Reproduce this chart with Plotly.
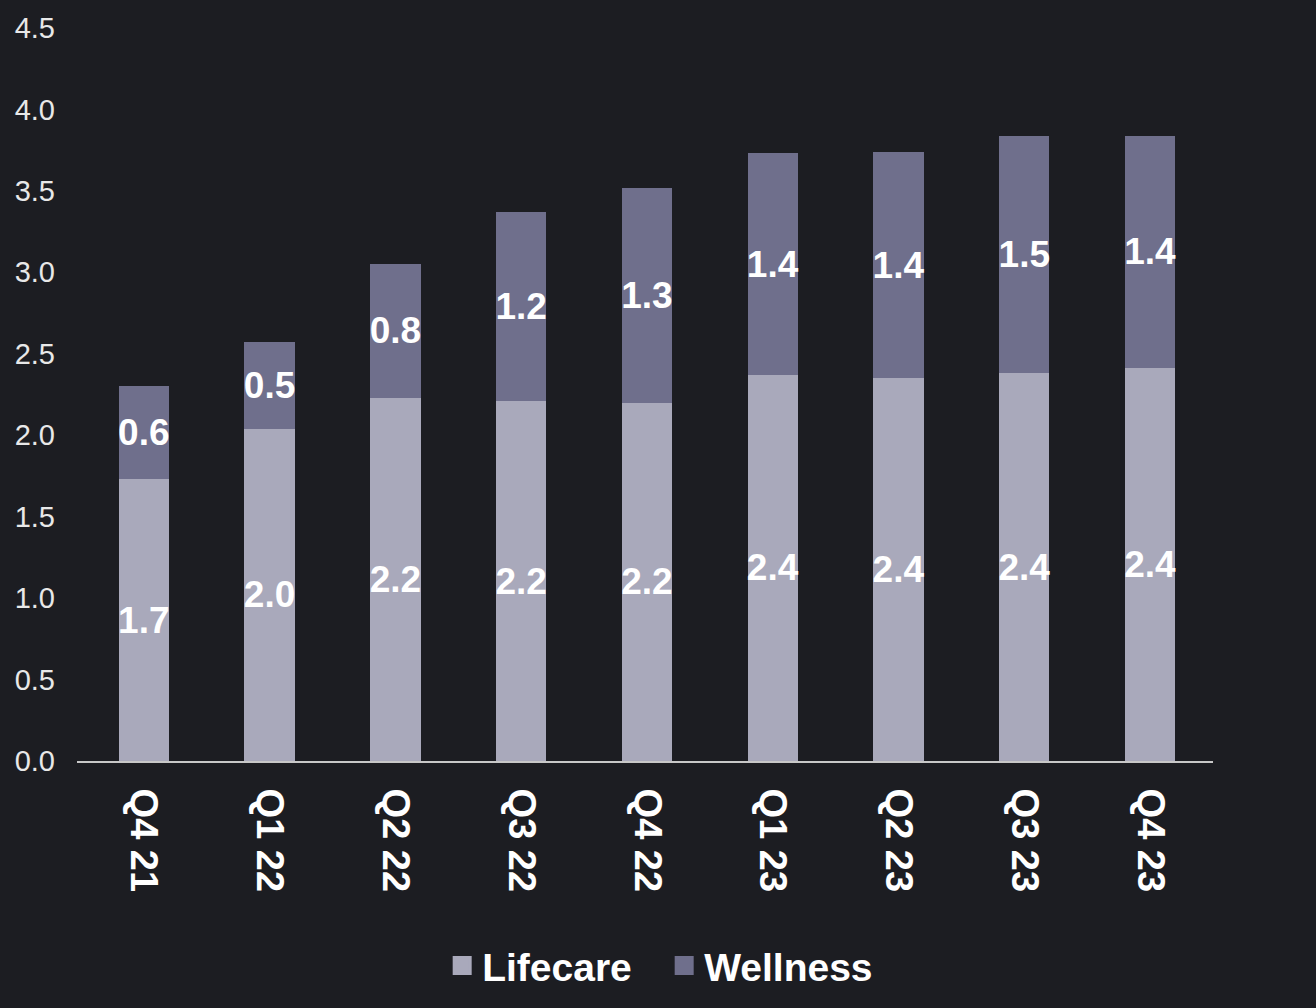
import plotly.graph_objects as go

quarters = ["Q4 21", "Q1 22", "Q2 22", "Q3 22", "Q4 22", "Q1 23", "Q2 23", "Q3 23", "Q4 23"]
lifecare = [1.73, 2.04, 2.23, 2.21, 2.20, 2.37, 2.35, 2.38, 2.41]
wellness = [0.57, 0.53, 0.82, 1.16, 1.32, 1.36, 1.39, 1.46, 1.43]

series = [("Lifecare", lifecare, "#a9a9bb"), ("Wellness", wellness, "#6f6f8c")]

bg = "#1c1d22"
font = "Liberation Sans, Arial, sans-serif"

fig = go.Figure()
for name, vals, color in series:
    fig.add_trace(go.Bar(
        x=quarters, y=vals, name=name, showlegend=False,
        marker=dict(color=color, line=dict(width=0)),
        text=[f"{v:.1f}" for v in vals], textposition="inside",
        textangle=0, insidetextanchor="middle", constraintext="none",
        textfont=dict(color="white", size=37, family=font, weight="bold"),
    ))

# legend entries with bigger square swatches
for name, vals, color in series:
    fig.add_trace(go.Scatter(
        x=[quarters[0]], y=[None], name=name, mode="markers",
        marker=dict(symbol="square", size=16, color=color, line=dict(color=color, width=3)),
        hoverinfo="skip",
    ))

fig.update_layout(
    width=1316, height=1008,
    barmode="stack", bargap=0.6,
    paper_bgcolor=bg, plot_bgcolor=bg,
    font=dict(family=font, color="#e8e8e8"),
    margin=dict(l=77, r=103, t=20, b=247),
    uniformtext=dict(mode="show", minsize=37),
    showlegend=True,
    legend=dict(
        orientation="h", xref="container", yref="container",
        x=0.336, xanchor="left", y=0.042, yanchor="middle",
        font=dict(size=39, color="white", family=font, weight="bold"),
        itemwidth=30, traceorder="normal",
        entrywidth=177, entrywidthmode="pixels",
    ),
    xaxis=dict(
        showgrid=False, showline=True, linecolor="#c8c8c8", linewidth=2,
        tickangle=90, ticklabelstandoff=18,
        tickfont=dict(size=38, color="white", family=font, weight="bold"),
    ),
    yaxis=dict(
        range=[0, 4.5], dtick=0.5, tickformat=".1f",
        showgrid=False, zeroline=False, showline=False,
        ticklabelstandoff=21,
        tickfont=dict(size=29, color="#e8e8e8", family=font),
    ),
)

fig.write_html("out.html", config={"displayModeBar": False},
               post_script="document.body.style.margin='0';")
